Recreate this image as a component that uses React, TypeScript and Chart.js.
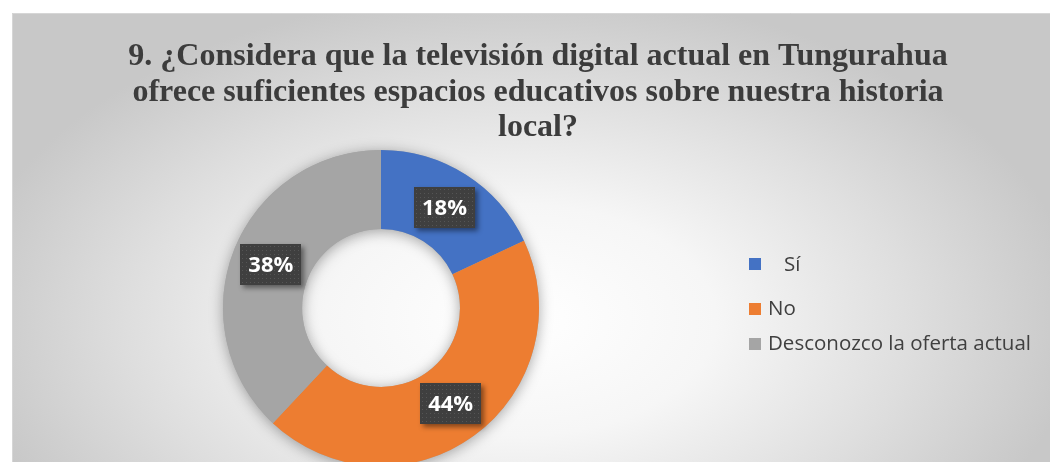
import React, { useEffect, useRef } from 'react';
import { Chart, registerables } from 'chart.js';

Chart.register(...registerables);

const TITLE_LINES = [
  '9. ¿Considera que la televisión digital actual en Tungurahua',
  'ofrece suficientes espacios educativos sobre nuestra historia',
  'local?',
];
const CATEGORIES = ['   Sí', 'No', 'Desconozco la oferta actual'];
const VALUES = [18, 44, 38];
const COLORS = ['#4472C4', '#ED7D31', '#A5A5A5'];

const W = 1050;
const H = 462;

const decorPlugin = {
  id: 'decor',
  beforeDraw(chart: any) {
    const ctx = chart.ctx as CanvasRenderingContext2D;
    ctx.save();
    ctx.fillStyle = '#ffffff';
    ctx.fillRect(0, 0, W, H);
    const x0 = 12, y0 = 13;
    ctx.save();
    ctx.beginPath();
    ctx.rect(x0, y0, W - x0, H - y0);
    ctx.clip();
    const cx = 520, cy = 320, rx = 560, ry = 330;
    ctx.translate(cx, cy);
    ctx.scale(1, ry / rx);
    const g = ctx.createRadialGradient(0, 0, 0, 0, 0, rx);
    g.addColorStop(0, '#ffffff');
    g.addColorStop(0.35, '#f6f6f6');
    g.addColorStop(0.7, '#dedede');
    g.addColorStop(1, '#c8c8c8');
    ctx.fillStyle = g;
    ctx.fillRect(-cx - 10, -(cy + 10) * (rx / ry), W + 40, (H + 40) * (rx / ry));
    ctx.restore();
    ctx.strokeStyle = '#d6d6d6';
    ctx.lineWidth = 1;
    ctx.beginPath();
    ctx.moveTo(x0 + 0.5, H);
    ctx.lineTo(x0 + 0.5, y0 + 0.5);
    ctx.lineTo(W, y0 + 0.5);
    ctx.stroke();

    ctx.fillStyle = '#3c3c3c';
    ctx.font = 'bold 32px "Liberation Serif", "Times New Roman", serif';
    ctx.textAlign = 'center';
    ctx.textBaseline = 'alphabetic';
    const baselines = [65, 101, 136];
    TITLE_LINES.forEach((t, i) => ctx.fillText(t, 538, baselines[i]));
    ctx.restore();
  },
  beforeDatasetsDraw(chart: any) {
    const meta = chart.getDatasetMeta(0);
    const a = meta.data[0];
    if (!a) return;
    const ctx = chart.ctx as CanvasRenderingContext2D;
    ctx.save();
    ctx.shadowColor = 'rgba(0,0,0,0.35)';
    ctx.shadowBlur = 14;
    ctx.shadowOffsetX = 0;
    ctx.shadowOffsetY = 2;
    ctx.fillStyle = '#a5a5a5';
    ctx.beginPath();
    ctx.arc(a.x, a.y, a.outerRadius, 0, Math.PI * 2);
    ctx.arc(a.x, a.y, a.innerRadius, 0, Math.PI * 2, true);
    ctx.fill('evenodd');
    ctx.restore();
  },
  afterDatasetsDraw(chart: any) {
    const ctx = chart.ctx as CanvasRenderingContext2D;
    const meta = chart.getDatasetMeta(0);
    const data = chart.data.datasets[0].data as number[];
    const total = data.reduce((s, v) => s + v, 0);
    meta.data.forEach((el: any, i: number) => {
      const p = el.tooltipPosition(false);
      const bw = 61, bh = 41;
      const bx = Math.round(p.x - bw / 2);
      const by = Math.round(p.y - bh / 2);
      ctx.save();
      ctx.shadowColor = 'rgba(0,0,0,0.45)';
      ctx.shadowBlur = 5;
      ctx.shadowOffsetX = 3;
      ctx.shadowOffsetY = 3;
      ctx.fillStyle = '#3f3f3f';
      ctx.fillRect(bx, by, bw, bh);
      ctx.restore();
      ctx.save();
      ctx.fillStyle = '#555555';
      for (let yy = by + 2; yy < by + bh; yy += 4) {
        for (let xx = bx + 2; xx < bx + bw; xx += 4) {
          ctx.fillRect(xx, yy, 1, 1);
        }
      }
      ctx.fillStyle = '#ffffff';
      ctx.font = 'bold 22px "Open Sans", sans-serif';
      ctx.textAlign = 'center';
      ctx.textBaseline = 'middle';
      const pct = Math.round((data[i] / total) * 100) + '%';
      ctx.fillText(pct, p.x, p.y + 1);
      ctx.restore();
    });
    const labels = chart.data.labels as string[];
    const colors = chart.data.datasets[0].backgroundColor as string[];
    const rows = [264, 308.5, 343.5];
    ctx.save();
    ctx.font = '20.5px "Open Sans", sans-serif';
    ctx.textAlign = 'left';
    ctx.textBaseline = 'middle';
    labels.forEach((lab, i) => {
      ctx.fillStyle = colors[i];
      ctx.fillRect(749, Math.round(rows[i] - 6), 12, 12);
      ctx.fillStyle = '#404040';
      ctx.fillText(lab, 768, rows[i] + 1);
    });
    ctx.restore();
  },
};

export default function App() {
  const ref = useRef<HTMLCanvasElement | null>(null);
  useEffect(() => {
    document.body.style.margin = '0';
    const canvas = ref.current;
    if (!canvas) return;
    const chart = new Chart(canvas, {
      type: 'doughnut',
      data: {
        labels: CATEGORIES,
        datasets: [
          {
            data: VALUES,
            backgroundColor: COLORS,
            borderWidth: 0,
            radius: 158,
            cutout: '50%',
            clip: false,
          } as any,
        ],
      },
      options: {
        responsive: false,
        animation: false,
        events: [],
        layout: { padding: { left: 223, right: 511, top: 154, bottom: 0 } },
        plugins: {
          legend: { display: false },
          title: { display: false },
          tooltip: { enabled: false },
        },
      },
      plugins: [decorPlugin],
    });
    return () => chart.destroy();
  }, []);
  return (
    <div style={{ width: W, height: H, overflow: 'hidden' }}>
      <canvas ref={ref} width={W} height={H} style={{ display: 'block' }} />
    </div>
  );
}
